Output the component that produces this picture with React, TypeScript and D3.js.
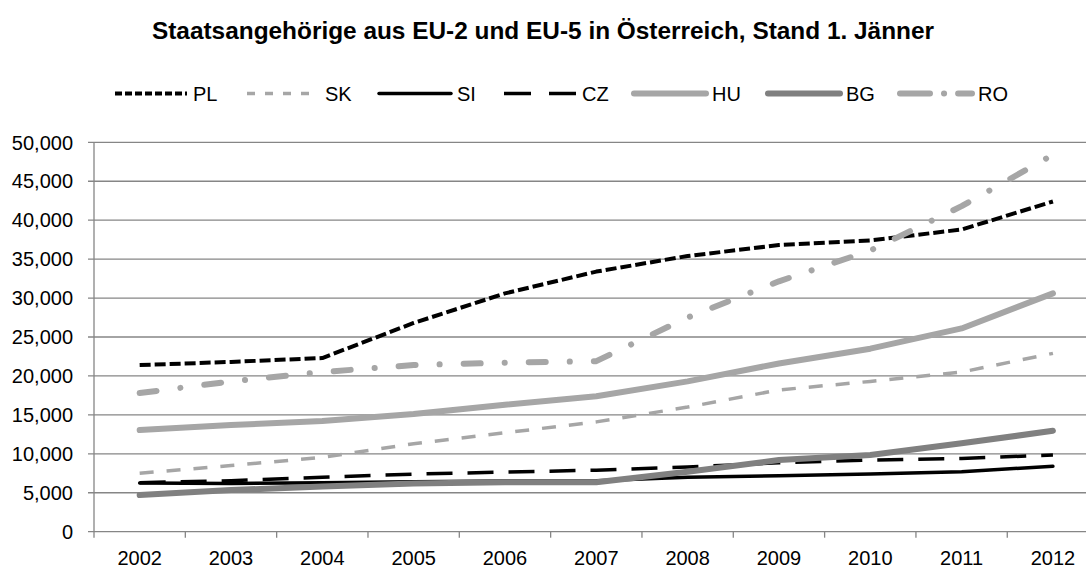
import React from "react";
import * as d3 from "d3";

const years = ["2002","2003","2004","2005","2006","2007","2008","2009","2010","2011","2012"];
const PL = [21400,21800,22300,26800,30600,33400,35400,36800,37400,38800,42400];
const SK = [7500,8500,9550,11300,12700,14100,16000,18200,19300,20500,22900];
const SI = [6250,6200,6300,6400,6500,6550,7000,7200,7400,7700,8400];
const CZ = [6300,6550,7000,7400,7650,7900,8300,8850,9200,9400,9850];
const HU = [13050,13700,14200,15100,16300,17400,19300,21600,23500,26100,30600];
const BG = [4700,5350,5800,6200,6350,6350,7700,9200,9850,11350,12950];
const RO = [17800,19300,20500,21400,21700,21900,27500,32150,36100,41800,48400];
const yTicks = [0,5000,10000,15000,20000,25000,30000,35000,40000,45000,50000];

const series = [
  { name: "PL", values: PL, color: "#000000", width: 4, dash: "11,4", legDash: "7,3", cap: "butt" },
  { name: "SK", values: SK, color: "#a6a6a6", width: 3.5, dash: "14,13", legDash: "8,10", cap: "butt" },
  { name: "SI", values: SI, color: "#000000", width: 3.5, dash: null, legDash: null, cap: "round" },
  { name: "CZ", values: CZ, color: "#000000", width: 3.5, dash: "26,15", legDash: "27,18", cap: "butt" },
  { name: "HU", values: HU, color: "#a6a6a6", width: 6, dash: null, legDash: null, cap: "round" },
  { name: "BG", values: BG, color: "#808080", width: 6, dash: null, legDash: null, cap: "round" },
  { name: "RO", values: RO, color: "#a6a6a6", width: 6, dash: "17,24,0.1,24", legDash: "30,14,0.1,14", cap: "round" },
];
const legendStarts = [115, 247, 379, 504, 634, 768, 900];

export default function App() {
  const W = 1086, H = 568;
  const left = 94, right = 1098.6, top = 142.3, bottom = 531.7;
  const x = d3.scaleBand<string>().domain(years).range([left, right]);
  const y = d3.scaleLinear().domain([0, 50000]).range([bottom, top]);
  const fmt = d3.format(",");
  const line = d3.line<number>()
    .x((_, i) => (x(years[i]) as number) + x.bandwidth() / 2)
    .y(d => y(d));
  const font = "Liberation Sans, Arial, sans-serif";
  return (
    <svg width={W} height={H} style={{ position: "absolute", left: 0, top: 0, background: "#fff" }} fontFamily={font}>
      <rect width={W} height={H} fill="#fff" />
      <text x={543} y={39} textAnchor="middle" fontSize={24.4} fontWeight="bold" fill="#000">
        Staatsangehörige aus EU-2 und EU-5 in Österreich, Stand 1. Jänner
      </text>
      {series.map((s, i) => {
        const lx = legendStarts[i];
        return (
          <g key={s.name}>
            <line x1={lx} x2={lx + 72} y1={93.5} y2={93.5} stroke={s.color} strokeWidth={s.width}
              strokeDasharray={s.legDash || undefined}
              strokeLinecap={s.cap as any} />
            <text x={lx + 78} y={100.8} fontSize={20} fill="#000">{s.name}</text>
          </g>
        );
      })}
      {yTicks.map(t => (
        <g key={t}>
          <line x1={left - 6} x2={W} y1={y(t)} y2={y(t)} stroke="#868686" strokeWidth={1.3} />
          <text x={73} y={y(t) + 7.2} textAnchor="end" fontSize={20} fill="#000">{fmt(t)}</text>
        </g>
      ))}
      <line x1={left} x2={left} y1={top} y2={bottom} stroke="#868686" strokeWidth={1.3} />
      {years.map(yr => (
        <g key={yr}>
          <line x1={x(yr) as number} x2={x(yr) as number} y1={bottom} y2={bottom + 6} stroke="#868686" strokeWidth={1.3} />
          <text x={(x(yr) as number) + x.bandwidth() / 2} y={565} textAnchor="middle" fontSize={20} fill="#000">{yr}</text>
        </g>
      ))}
      {series.map(s => (
        <path key={s.name} d={line(s.values) || ""} fill="none" stroke={s.color} strokeWidth={s.width}
          strokeDasharray={s.dash || undefined} strokeLinecap={s.cap as any} strokeLinejoin="round" />
      ))}
    </svg>
  );
}
